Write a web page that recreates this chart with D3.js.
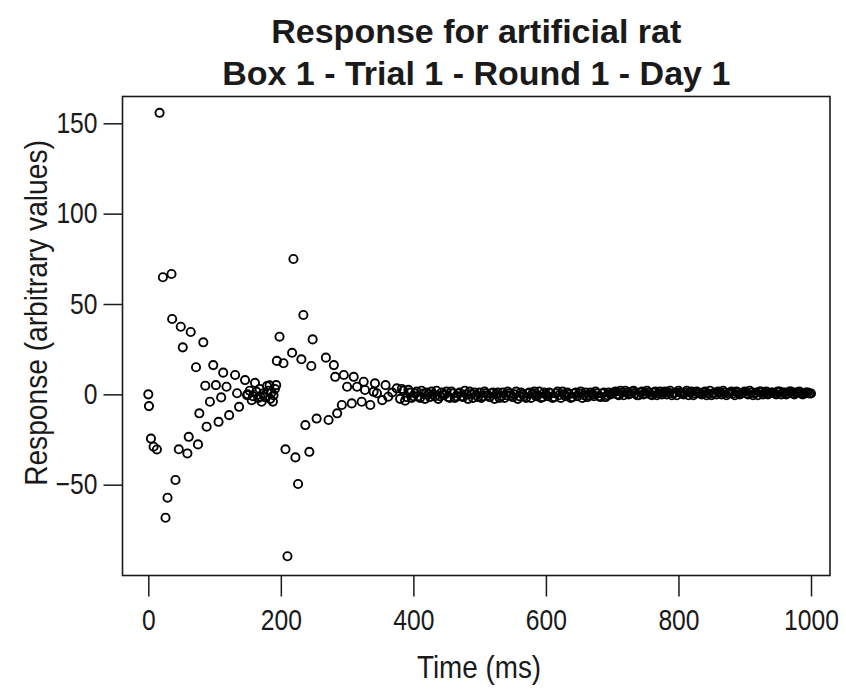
<!DOCTYPE html>
<html>
<head>
<meta charset="utf-8">
<script src="https://cdn.jsdelivr.net/npm/d3@7"></script>
<style>
  body { margin: 0; background: #fff; }
  text { font-family: "Liberation Sans", Arial, sans-serif; fill: #1a1a1a; }
</style>
</head>
<body>
<script>
// [time (ms), response]
const firstPulse = [
  [0, 0], [1, -6.5], [4, -24.5], [8, -29], [13, -30.5], [17, 155.8], [22, 64.8],
  [26, -68.3], [29, -57.2], [35, 66.6], [36, 41.7], [41, -47.4], [46, -30.4],
  [49, 37.4], [52, 26], [59, -32.7], [61, -23.5], [64, 34.5], [72, 15], [75, -27.7],
  [77, -10.5], [83, 28.8], [86, 4.8], [88, -17.9], [93, -4.1], [98, 16.2], [102, 5.1],
  [106, -15.2], [110, -1.7], [113, 12], [118, 4.2], [122, -11.5], [131, 10.7],
  [134, 0.6], [137, -6.9], [146, 7.9], [149, -0.4], [150, 0], [153, 2], [156, -3.2],
  [158, -1], [161, 6.4], [163, 1.5], [166, -2], [168, 3], [169, -1.3], [171, -4.1],
  [173, 0.5], [176, -1.5], [179, 4.6], [181, 2], [183, 5], [184, -2.5], [186, 1],
  [188, -4], [189, -0.5], [191, 3], [193, 5.1]
];

const secondPulse = [
  [194, 18.5], [198, 31.9], [204, 17.2], [207, -30.4], [210, -89.6], [217, 23],
  [219, 74.9], [222, -34.9], [226, -49.6], [231, 19.4], [234, 43.9], [237, -17],
  [243, -31.8], [246, 15.7], [248, 30.4], [254, -13.4], [268, 20.3], [272, -14.2],
  [280, 16.2], [282, 9.7], [285, -10.5], [292, -5.9], [295, 10.7], [300, 4.2],
  [307, -5], [310, 9.7], [315, 4.2], [322, -4.1], [325, 7], [327, 2.4], [335, -5.9],
  [340, 1.4], [342, 6.1], [345, 0.6], [353, -3.2], [358, 5.1], [362, -1.3],
  [368, 1], [375, 3.3]
];

const tail = [
  [380, -2.5], [385, 2], [390, -1.5], [395, 1], [400, -1], [405, 1.5], [410, -2],
  [415, 0.5], [420, 1], [425, -1.5], [430, 0], [435, 2], [440, -1], [445, -0.5],
  [450, 1.5], [455, -2], [460, 0.5], [465, -1], [470, 1], [475, -1.5], [480, 0],
  [485, 1.5], [490, -2], [495, -0.5], [500, 1], [505, -1], [510, 0.5], [515, -1.5],
  [520, 1], [525, 0], [530, -2], [535, 1], [540, -0.5], [545, 0.5], [550, -1.5],
  [555, 1.5], [560, -1], [565, 0], [570, -2], [575, 1], [580, 0.5], [585, -1],
  [590, 1.5], [595, -1.5], [600, 0], [605, 1], [610, -2], [615, 0.5], [620, -0.5],
  [625, 1.5], [630, -1], [635, 0], [640, -1.5], [645, 1], [650, 0.5], [655, -2],
  [660, 1], [665, -0.5], [670, 0], [675, 1.5], [680, -1], [685, 0.5], [690, -1.5],
  [695, 1], [700, 0.5], [705, 1.5], [710, -0.5], [715, 1], [720, 2], [725, 0],
  [730, 1.5], [735, 0.5], [740, -0.5], [745, 1.5], [750, 0.5], [755, 1], [760, -0.5],
  [765, 1.5], [770, 0.5], [775, 0], [780, 1.5], [785, 1], [790, -0.5], [795, 1],
  [800, 2], [805, 0.5], [810, 1], [815, -0.5], [820, 1.5], [825, 0.5], [830, 1],
  [835, 0], [840, 1.5], [845, 0.5], [850, -0.5], [855, 1], [860, 1.5], [865, 0],
  [870, 1], [875, 0.5], [880, 1.5], [885, -0.5], [890, 1], [895, 0.5], [900, 1.5],
  [905, 0], [910, 1], [915, 0.5], [920, -0.5], [925, 1.5], [930, 1], [935, 0],
  [940, 1], [945, 0.5], [950, 1.5], [955, 0], [960, 1], [965, 0.5], [970, 1.5],
  [975, 0], [980, 1], [985, 0.5], [990, 0.5], [995, 1], [1000, 0.5]
];

// samples that fall between the ones above
const tailMid = [
  [382.5, 3], [387.5, -3.5], [392.5, 2.5], [397.5, -2], [402.5, 0.5], [407.5, -1],
  [412.5, 2], [417.5, -2.5], [422.5, 0], [427.5, 1.5], [432.5, -1], [437.5, -2.5],
  [442.5, 1], [447.5, 0], [452.5, -1.5], [457.5, 1.5], [462.5, -2], [467.5, 0.5],
  [472.5, -1], [477.5, 2], [482.5, -2.5], [487.5, 0], [492.5, 1], [497.5, -1.5],
  [502.5, -2], [507.5, 1.5], [512.5, -0.5], [517.5, 0.5], [522.5, -2.5], [527.5, 1],
  [532.5, -1], [537.5, -2], [542.5, 1.5], [547.5, -0.5], [552.5, 0], [557.5, -2.5],
  [562.5, 1], [567.5, -1], [572.5, 0.5], [577.5, -2], [582.5, 1.5], [587.5, -0.5],
  [592.5, -2], [597.5, 1], [602.5, -1], [607.5, 0.5], [612.5, -1.5], [617.5, 1.5],
  [622.5, -2], [627.5, 0], [632.5, 1], [637.5, -2], [642.5, 0.5], [647.5, -1],
  [652.5, 1.5], [657.5, -0.5], [662.5, -1.5], [667.5, 1], [672.5, -1], [677.5, 0.5],
  [682.5, -1.5], [687.5, 1], [692.5, -0.5], [697.5, 0], [702.5, 1], [707.5, 0],
  [712.5, 2], [717.5, -0.5], [722.5, 1], [727.5, 0.5], [732.5, 2], [737.5, -0.5],
  [742.5, 1], [747.5, 0], [752.5, 2], [757.5, 0], [762.5, 1], [767.5, -0.5],
  [772.5, 1.5], [777.5, 1], [782.5, 0], [787.5, 2], [792.5, 0.5], [797.5, -0.5],
  [802.5, 1], [807.5, 0], [812.5, 2], [817.5, 1], [822.5, -0.5], [827.5, 1.5],
  [832.5, 0.5], [837.5, 1], [842.5, -0.5], [847.5, 2], [852.5, 0.5], [857.5, 0],
  [862.5, 1], [867.5, 2], [872.5, -0.5], [877.5, 1], [882.5, 0.5], [887.5, 1.5],
  [892.5, 0], [897.5, 1], [902.5, 0.5], [907.5, 2], [912.5, -0.5], [917.5, 1],
  [922.5, 1.5], [927.5, 0], [932.5, 1.5], [937.5, 0.5], [942.5, 1], [947.5, 0],
  [952.5, 1.5], [957.5, 1], [962.5, 0], [967.5, 1.5], [972.5, 0.5], [977.5, 1],
  [982.5, 1.5], [987.5, 0], [992.5, 1], [997.5, 0.5]
];

const xTicks = [0, 200, 400, 600, 800, 1000];
const yTicks = [-50, 0, 50, 100, 150];
const titleLines = ["Response for artificial rat", "Box 1 - Trial 1 - Round 1 - Day 1"];

const W = 846, H = 693;
const box = { left: 122.5, right: 830, top: 96.5, bottom: 575.5 };
const squeeze = 0.85; // the tick and axis text is narrow and tall

const svg = d3.select("body").append("svg")
  .attr("width", W)
  .attr("height", H);

const x = d3.scaleLinear().domain([0, 1000]).range([148.3, 811]);
const y = d3.scaleLinear().domain([-50, 150]).range([484.7, 123.3]);

// plot frame
svg.append("rect")
  .attr("x", box.left)
  .attr("y", box.top)
  .attr("width", box.right - box.left)
  .attr("height", box.bottom - box.top)
  .attr("fill", "none")
  .attr("stroke", "#1a1a1a")
  .attr("stroke-width", 1.6);

const xAxis = svg.append("g")
  .attr("transform", `translate(0,${box.bottom})`)
  .call(d3.axisBottom(x).tickValues(xTicks).tickSize(21).tickPadding(13).tickFormat(d3.format("d")));

const yAxis = svg.append("g")
  .attr("transform", `translate(${box.left},0)`)
  .call(d3.axisLeft(y).tickValues(yTicks).tickSize(19).tickPadding(6).tickFormat(d3.format("d")));

[xAxis, yAxis].forEach(g => {
  g.select(".domain").remove();
  g.selectAll("line").attr("stroke", "#1a1a1a").attr("stroke-width", 1.5);
  g.selectAll("text")
    .style("font-family", "'Liberation Sans', Arial, sans-serif")
    .style("font-size", "29px")
    .attr("fill", "#1a1a1a")
    .attr("transform", `scale(${squeeze},1)`);
});
yAxis.selectAll("text").attr("x", -25 / squeeze);

const points = firstPulse.concat(secondPulse, tail, tailMid);

svg.append("g")
  .selectAll("circle")
  .data(points)
  .enter()
  .append("circle")
  .attr("cx", d => x(d[0]))
  .attr("cy", d => y(d[1]))
  .attr("r", 4.1)
  .attr("fill", "none")
  .attr("stroke", "#000")
  .attr("stroke-width", 1.9);

// titles
svg.append("g")
  .selectAll("text")
  .data(titleLines)
  .enter()
  .append("text")
  .attr("x", (box.left + box.right) / 2)
  .attr("y", (d, i) => 43 + i * 42)
  .attr("text-anchor", "middle")
  .style("font-size", "34px")
  .style("font-weight", "bold")
  .text(d => d);

svg.append("text")
  .attr("transform", `translate(479,678) scale(0.87,1)`)
  .attr("text-anchor", "middle")
  .style("font-size", "32px")
  .text("Time (ms)");

svg.append("text")
  .attr("transform", `translate(47,313) rotate(-90) scale(0.88,1)`)
  .attr("text-anchor", "middle")
  .style("font-size", "32px")
  .text("Response (arbitrary values)");
</script>
</body>
</html>
